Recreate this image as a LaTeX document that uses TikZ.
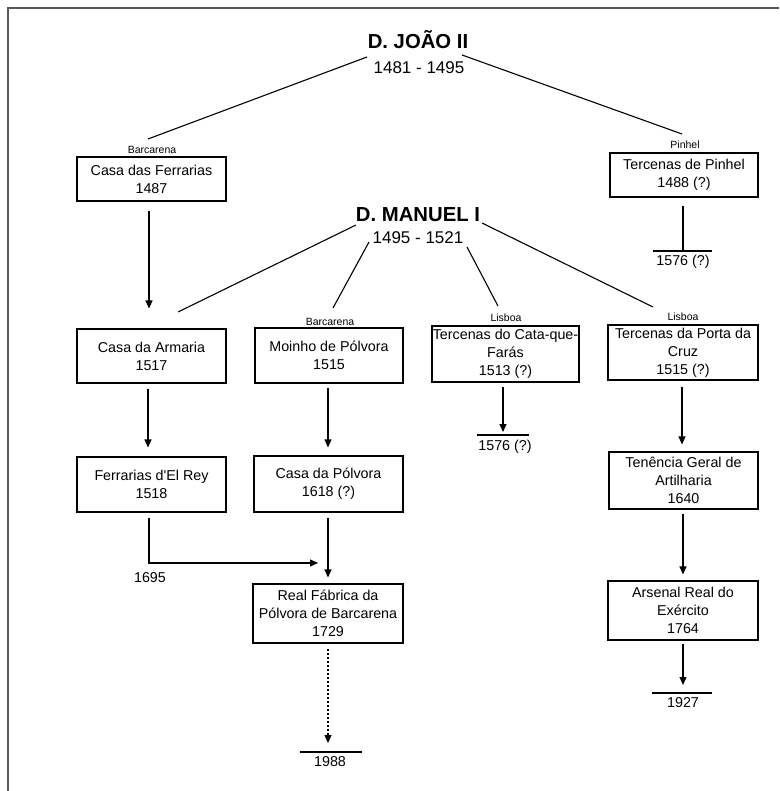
\documentclass[tikz,border=0pt]{standalone}
\usepackage{fontspec}
\setmainfont{Liberation Sans}
\usetikzlibrary{arrows.meta}
\begin{document}
\begin{tikzpicture}[x=1pt,y=-1pt,
  box/.style={draw,line width=1.1pt,inner sep=0pt,align=center,font=\fontsize{14.3}{18}\selectfont},
  txt/.style={inner sep=0pt,font=\fontsize{14.3}{18}\selectfont},
  small/.style={inner sep=0pt,font=\fontsize{10.5}{12}\selectfont},
  ttl/.style={inner sep=0pt,font=\fontsize{20.3}{24}\selectfont\bfseries},
  yrs/.style={inner sep=0pt,font=\fontsize{17}{20}\selectfont},
  ln/.style={line width=1.1pt},
  arr/.style={line width=1.1pt,-{Triangle[length=8pt,width=7pt]}},
  frame/.style={line width=2.5pt,draw=black!65},
]
\useasboundingbox (0,0) rectangle (779,791);
\draw[frame] (8,791) -- (8,8) -- (779,8);

% titles
\node[ttl] (joao) at (418,40) {D. JOÃO II};
\node[yrs] (joaoy) at (419,68) {1481 - 1495};
\node[ttl] (manuel) at (418,215) {D. MANUEL I};
\node[yrs] (manuely) at (418,238) {1495 - 1521};

% place labels
\node[small] (lb1) at (152,150) {Barcarena};
\node[small] (lp) at (685,145) {Pinhel};
\node[small] (lb2) at (330,322) {Barcarena};
\node[small] (ll1) at (506,318) {Lisboa};
\node[small] (ll2) at (683,317) {Lisboa};

% boxes
\node[box,minimum width=149,minimum height=44] (cf) at (151.5,179) {Casa das Ferrarias\\1487};
\node[box,minimum width=148,minimum height=44] (tp) at (684,175) {Tercenas de Pinhel\\1488 (?)};
\node[box,minimum width=149,minimum height=54] (ca) at (151.5,356) {Casa da Armaria\\1517};
\node[box,minimum width=148,minimum height=55] (mp) at (329,355.5) {Moinho de Pólvora\\1515};
\node[box,minimum width=147,minimum height=56] (tc) at (505.5,354) {Tercenas do Cata-que-\\Farás\\1513 (?)};
\node[box,minimum width=150,minimum height=55] (tpc) at (683,352.5) {Tercenas da Porta da\\Cruz\\1515 (?)};
\node[box,minimum width=149,minimum height=55] (fr) at (151.5,484.5) {Ferrarias d\textquotesingle El Rey\\1518};
\node[box,minimum width=149,minimum height=56] (cp) at (328.5,484) {Casa da Pólvora\\1618 (?)};
\node[box,minimum width=149,minimum height=57] (tg) at (683.5,480.5) {Tenência Geral de\\Artilharia\\1640};
\node[box,minimum width=150,minimum height=59] (rf) at (328,613.5) {Real Fábrica da\\Pólvora de Barcarena\\1729};
\node[box,minimum width=150,minimum height=59] (ar) at (683,610.5) {Arsenal Real do\\Exército\\1764};

% end dates
\node[txt] (e1) at (683,262) {1576 (?)};
\node[txt] (e2) at (505,447) {1576 (?)};
\node[txt] (e3) at (683,703) {1927};
\node[txt] (e4) at (330,762) {1988};
\node[txt] (y1695) at (150,578) {1695};

\coordinate (b1) at (683,251);
\coordinate (b2) at (503,435);
\coordinate (b3) at (683,693);
\coordinate (b4) at (328,752);
\draw[ln] (653,251) -- (712,251);
\draw[ln] (477,435) -- (529,435);
\draw[ln] (652,693) -- (712,693);
\draw[ln] (300,752) -- (362,752);

% lines from kings
\coordinate (jl) at (367,57);
\coordinate (jr) at (462,55);
\coordinate (ml) at (356,225);
\coordinate (m2) at (369,242);
\coordinate (m3) at (467,247);
\coordinate (m4) at (482,223);
\coordinate (tb1) at (148,139);
\coordinate (tp1) at (682,134);
\coordinate (tca) at (178,312);
\coordinate (tb2) at (333,308);
\coordinate (tl1) at (498,306);
\coordinate (tl2) at (653,307);
\draw[ln] (jl) -- (tb1);
\draw[ln] (jr) -- (tp1);
\draw[ln] (ml) -- (tca);
\draw[ln] (m2) -- (tb2);
\draw[ln] (m3) -- (tl1);
\draw[ln] (m4) -- (tl2);

% arrows
\draw[arr,shorten <=9pt,shorten >=20pt] (cf.south -| 149,0) -- (ca.north -| 149,0);
\draw[ln,shorten <=8pt] (tp.south -| 683,0) -- (b1);
\draw[arr,shorten <=5pt,shorten >=9pt] (ca.south -| 148,0) -- (fr.north -| 148,0);
\draw[arr,shorten <=4pt,shorten >=8pt] (mp.south -| 328,0) -- (cp.north -| 328,0);
\draw[arr,shorten <=5pt,shorten >=6pt] (cp.south -| 328,0) -- (rf.north -| 328,0);
\draw[arr,shorten <=4pt,shorten >=3pt] (tc.south -| 503,0) -- (b2);
\draw[arr,shorten <=6pt,shorten >=7pt] (tpc.south -| 682,0) -- (tg.north -| 682,0);
\draw[arr,shorten <=4pt,shorten >=6pt] (tg.south -| 683,0) -- (ar.north -| 683,0);
\draw[arr,shorten <=3pt,shorten >=8pt] (ar.south -| 683,0) -- (b3);
\draw[arr,dash pattern=on 2pt off 2pt,shorten <=5pt,shorten >=9pt] (rf.south -| 328,0) -- (b4);
\coordinate (j1) at (318,563);
\draw[arr,shorten <=5pt] (fr.south -| 149,0) |- (j1);
\end{tikzpicture}
\end{document}
